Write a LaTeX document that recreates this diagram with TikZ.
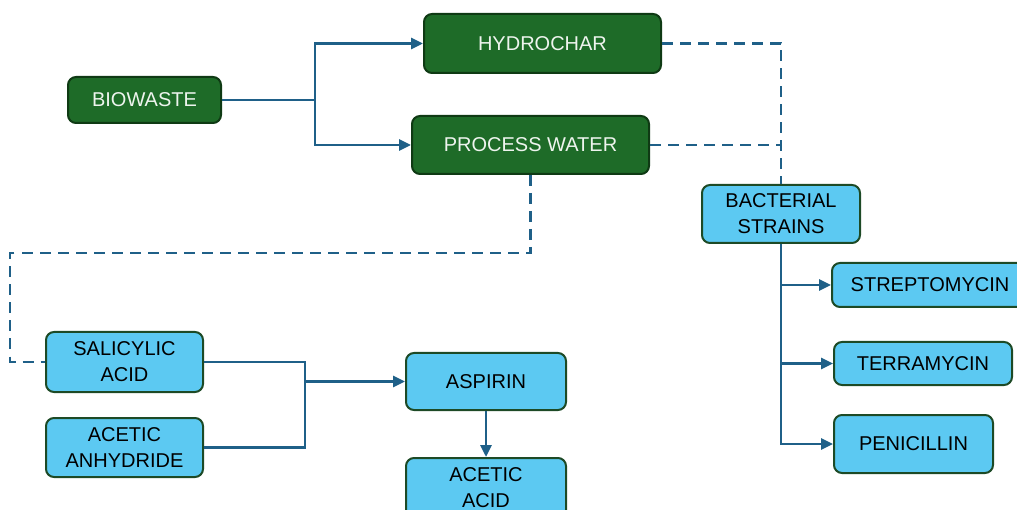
\documentclass[tikz,border=0pt]{standalone}
\usepackage{fontspec}
\setmainfont{Liberation Sans}
\usepackage{tikz}
\usetikzlibrary{shapes,calc,positioning,arrows.meta}
\definecolor{leafgreen}{HTML}{1E6B28}
\definecolor{leafedge}{HTML}{0F3A14}
\definecolor{skyblue}{HTML}{5CC9F2}
\definecolor{skyedge}{HTML}{1D4A26}
\definecolor{linkblue}{HTML}{1F6088}
\definecolor{paletext}{HTML}{EEF4EE}

\begin{document}
\begin{tikzpicture}[x=1pt, y=-1pt,
   greenbox/.style={draw=leafedge, line width=2pt, fill=leafgreen, rounded corners=8pt,
     text=paletext, font=\fontsize{20}{26}\selectfont, align=center, inner sep=0pt},
   bluebox/.style={draw=skyedge, line width=2pt, fill=skyblue, rounded corners=8pt,
     text=black, font=\fontsize{20}{26}\selectfont, align=center, inner sep=0pt},
   link/.style={draw=linkblue, line width=2.8pt, -{Triangle[length=12pt,width=11pt]}},
   plainlink/.style={draw=linkblue, line width=2.8pt},
   dashlink/.style={draw=linkblue, line width=2.8pt, dash pattern=on 11pt off 7pt}]
   \useasboundingbox (0,0) rectangle (1017,510);
   % feedstock and products
   \node[greenbox, minimum width=153pt, minimum height=46pt] (bio) at (144.5,100) {BIOWASTE};
   \node[greenbox, minimum width=237pt, minimum height=59pt] (hydro) at (542.5,43.5) {HYDROCHAR};
   \node[greenbox, minimum width=237pt, minimum height=58pt] (pw) at (530.5,145) {PROCESS WATER};
   % antibiotics branch
   \node[bluebox, minimum width=158pt, minimum height=58pt] (bact) at (781,214) {BACTERIAL\\STRAINS};
   \node[bluebox, minimum width=196pt, minimum height=44pt] (strep) at (930,285) {STREPTOMYCIN};
   \node[bluebox, minimum width=178pt, minimum height=43pt] (terra) at (923,363.5) {TERRAMYCIN};
   \node[bluebox, minimum width=159pt, minimum height=58pt] (peni) at (913.5,444) {PENICILLIN};
   % aspirin branch
   \node[bluebox, minimum width=157pt, minimum height=60pt] (sal) at (124.5,362) {SALICYLIC\\ACID};
   \node[bluebox, minimum width=157pt, minimum height=59pt] (anh) at (124.5,447.5) {ACETIC\\ANHYDRIDE};
   \node[bluebox, minimum width=160pt, minimum height=57pt] (asp) at (486,381.5) {ASPIRIN};
   \node[bluebox, minimum width=160pt, minimum height=60pt] (aa) at (486,488) {ACETIC\\ACID};
   \coordinate (bj) at (315,100);
   \coordinate (dl) at (10,253);
   \coordinate (sj) at (305,381.5);
   \draw[plainlink] (bio.east) -- (bj);
   \draw[link] (bj) |- (hydro.west);
   \draw[link] (bj) |- (pw.west);
   \draw[dashlink] (hydro.east) -- (hydro.east -| bact.north) -- (bact.north);
   \draw[dashlink] (pw.east) -- (pw.east -| bact.north);
   \draw[dashlink] (pw.south) |- (dl) |- (sal.west);
   \draw[link] (bact.south) |- (strep.west);
   \draw[link] (bact.south) |- (terra.west);
   \draw[link] (bact.south) |- (peni.west);
   \draw[plainlink] (sal.east) -| (sj);
   \draw[plainlink] (anh.east) -| (sj);
   \draw[link] (sj) -- (asp.west);
   \draw[link] (asp.south) -- (aa.north);
\end{tikzpicture}
\end{document}
